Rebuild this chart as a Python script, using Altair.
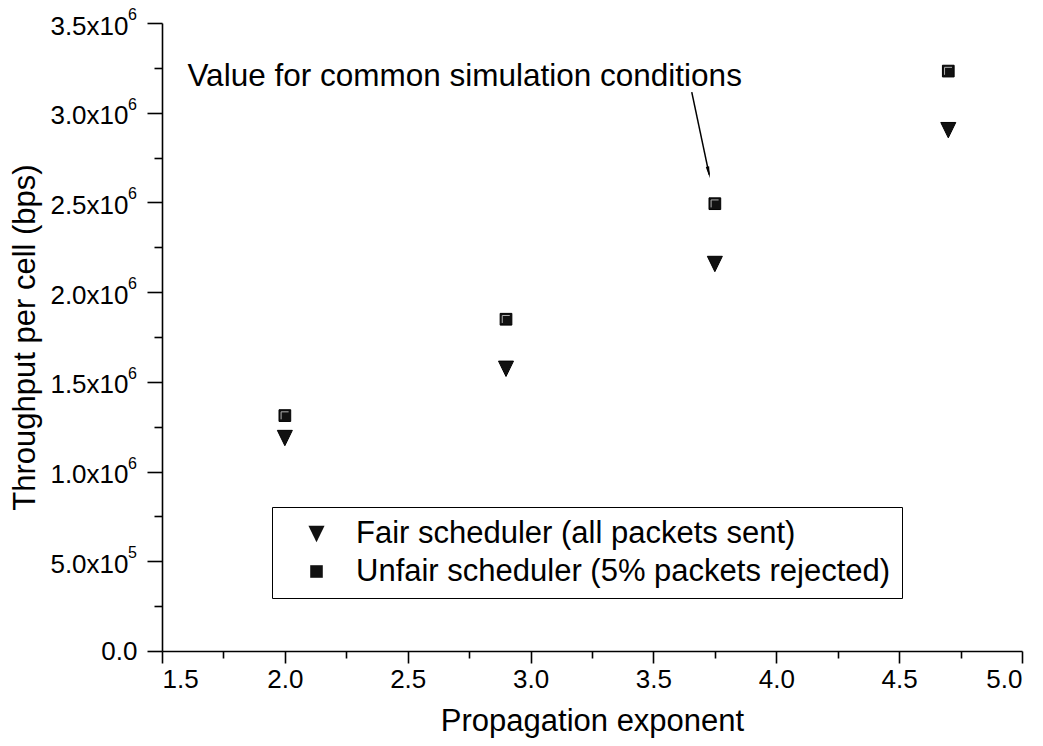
import altair as alt
import pandas as pd

# ---- data ----
exponent = [2.0, 2.9, 3.75, 4.7]
fair = [1.19e6, 1.576e6, 2.16e6, 2.906e6]
unfair = [1.312e6, 1.849e6, 2.493e6, 3.232e6]
series_names = ["Fair scheduler (all packets sent)", "Unfair scheduler (5% packets rejected)"]

x_major = [1.5, 2.0, 2.5, 3.0, 3.5, 4.0, 4.5, 5.0]
x_all = [1.5, 1.75, 2.0, 2.25, 2.5, 2.75, 3.0, 3.25, 3.5, 3.75, 4.0, 4.25, 4.5, 4.75, 5.0]
y_major = [0, 500000, 1000000, 1500000, 2000000, 2500000, 3000000, 3500000]
y_major_labels = ["0.0", "5.0x10", "1.0x10", "1.5x10", "2.0x10", "2.5x10", "3.0x10", "3.5x10"]
y_sup_values = [500000, 1000000, 1500000, 2000000, 2500000, 3000000, 3500000]
y_sup_labels = ["5", "6", "6", "6", "6", "6", "6"]
y_all = [0, 250000, 500000, 750000, 1000000, 1250000, 1500000, 1750000, 2000000,
         2250000, 2500000, 2750000, 3000000, 3250000, 3500000]

annot_text = ["Value for common simulation conditions"]
annot_x = [3.86]
annot_y = [3.147e6]
arrow_x = [3.656]
arrow_y = [3.115e6]
arrow_x2 = [3.727]
arrow_y2 = [2.655e6]
head_x = [3.7233]
head_y = [2.678e6]

FONT = "Liberation Sans"
TRI = "M-1,-0.95L1,-0.95L0,1.1Z"
SQR = "M-0.78,-0.78L0.78,-0.78L0.78,0.78L-0.78,0.78Z"
BEVEL = "M-0.5,0.5L-0.5,-0.5L0.5,-0.5"

df = pd.DataFrame({
    "x": exponent * 2,
    "y": fair + unfair,
    "series": [series_names[0]] * 4 + [series_names[1]] * 4,
})
df_unfair = pd.DataFrame({"x": exponent, "y": unfair})

xmaj = ",".join(str(v) for v in x_major)
ymaj = ",".join(str(v) for v in y_major)
ylab = ",".join("'" + s + "'" for s in y_major_labels)
is_minor_x = f"indexof([{xmaj}], datum.value) < 0"
is_minor_y = f"indexof([{ymaj}], datum.value) < 0"

x_axis = alt.Axis(
    orient="bottom",
    values=x_all,
    labelExpr=f"{is_minor_x} ? '' : format(datum.value, '.1f')",
    tickSize={"condition": {"test": is_minor_x, "value": 7}, "value": 12},
    grid=False, domainColor="black", tickColor="black", domainWidth=1.6, tickWidth=1.6,
    labelFont=FONT, labelFontSize=26, labelColor="black", labelPadding=3,
    title="Propagation exponent", titleFont=FONT, titleFontSize=31, titleFontWeight="normal",
    titleColor="black", titlePadding=14,
)
y_axis = alt.Axis(
    orient="left",
    values=y_all,
    labelExpr=f"{is_minor_y} ? '' : [{ylab}][indexof([{ymaj}], datum.value)]",
    tickSize={"condition": {"test": is_minor_y, "value": 8}, "value": 15},
    labelPadding={"condition": {"test": "datum.value == 0", "value": 10}, "value": 19},
    labelOffset={"condition": {"test": "datum.value == 0", "value": 0}, "value": 3},
    grid=False, domainColor="black", tickColor="black", domainWidth=1.6, tickWidth=1.6,
    labelFont=FONT, labelFontSize=26, labelColor="black",
    title="Throughput per cell (bps)", titleFont=FONT, titleFontSize=31, titleFontWeight="normal",
    titleColor="black", titlePadding=8,
)

xs = alt.Scale(domain=[1.5, 5.0], nice=False, zero=False)
ys = alt.Scale(domain=[0, 3500000], nice=False)

points = alt.Chart(df).mark_point(filled=True, opacity=1, strokeWidth=1, size=225).encode(
    x=alt.X("x:Q", scale=xs, axis=x_axis),
    y=alt.Y("y:Q", scale=ys, axis=y_axis),
    shape=alt.Shape("series:N", scale=alt.Scale(domain=series_names, range=[TRI, SQR]),
                    legend=alt.Legend(
                        title=None, orient="none", legendX=110, legendY=484,
                        strokeColor="black", fillColor="white", padding=11,
                        labelFont=FONT, labelFontSize=31, labelColor="black",
                        labelOffset=24, symbolOffset=18, rowPadding=6,
                        symbolSize=260, symbolFillColor="black", symbolStrokeColor="black",
                        symbolStrokeWidth=1, labelLimit=800,
                    )),
    color=alt.value("#111111"),
    stroke=alt.value("black"),
)

bevel = alt.Chart(df_unfair).mark_point(shape=BEVEL, filled=False, size=225, stroke="#b0b0b0",
                                        strokeWidth=1, opacity=1).encode(
    x=alt.X("x:Q", scale=xs), y=alt.Y("y:Q", scale=ys))

sup_df = pd.DataFrame({"y": y_sup_values, "t": y_sup_labels})
sup = alt.Chart(sup_df).mark_text(font=FONT, fontSize=16, align="right", baseline="middle",
                                  dy=-8, color="black").encode(
    x=alt.value(-25),
    y=alt.Y("y:Q", scale=ys),
    text="t:N",
)

ann_df = pd.DataFrame({"t": annot_text, "x": annot_x, "y": annot_y})
ann = alt.Chart(ann_df).mark_text(font=FONT, fontSize=31.5, align="right", baseline="alphabetic",
                                  color="black").encode(x="x:Q", y="y:Q", text="t:N")

arr_df = pd.DataFrame({"x": arrow_x, "y": arrow_y, "x2": arrow_x2, "y2": arrow_y2})
arrow = alt.Chart(arr_df).mark_rule(color="black", strokeWidth=1.5).encode(
    x="x:Q", y="y:Q", x2="x2:Q", y2="y2:Q")

head_df = pd.DataFrame({"x": head_x, "y": head_y})
head = alt.Chart(head_df).mark_point(shape="wedge", filled=True, color="black", size=190,
                                     angle=168, opacity=1).encode(x="x:Q", y="y:Q")

chart = alt.layer(points, bevel, sup, arrow, head, ann).properties(
    width=860, height=628,
    autosize=alt.AutoSizeParams(type="none"),
    padding={"left": 154, "top": 15, "right": 13, "bottom": 87},
).configure_view(stroke=None)

chart.save("out.html", embed_options={"renderer": "svg", "actions": False})
